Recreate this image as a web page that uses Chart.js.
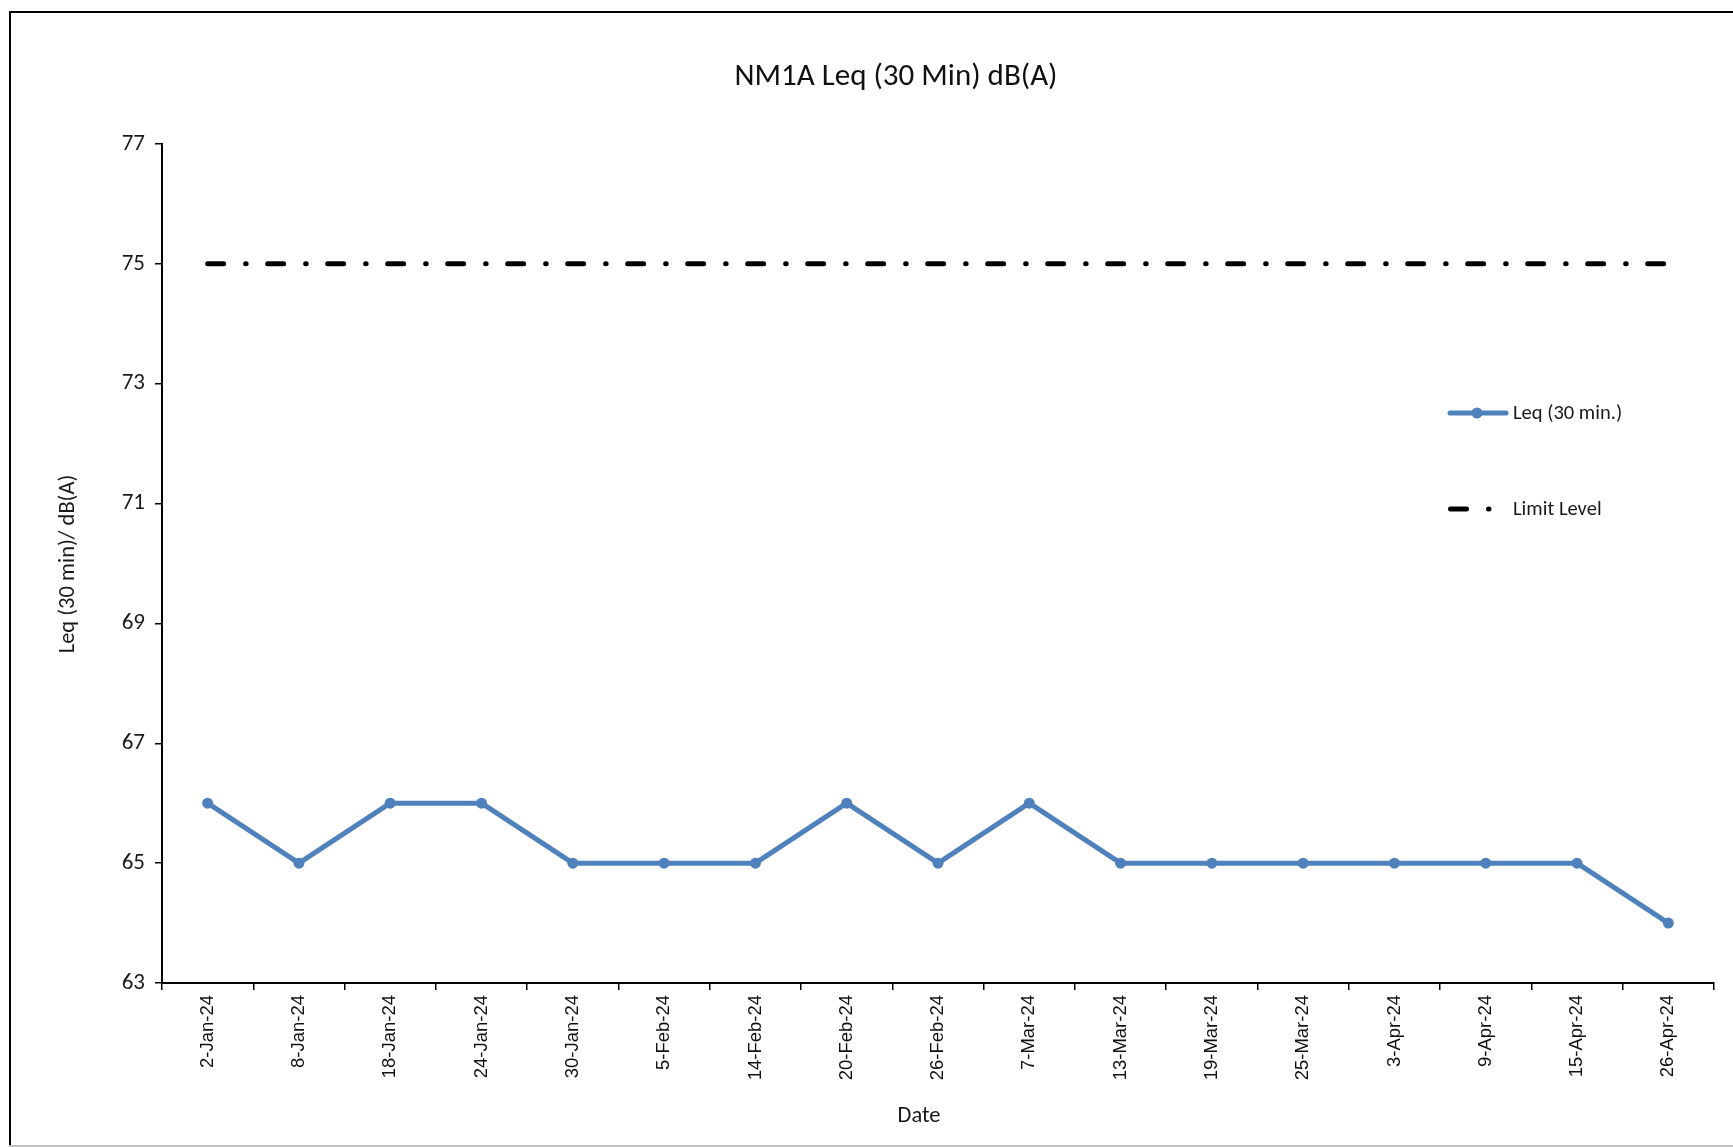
<!DOCTYPE html>
<html><head><meta charset="utf-8">
<script src="https://cdn.jsdelivr.net/npm/chart.js@4"></script>
<style>html,body{margin:0;padding:0;background:#fff;overflow:hidden;}</style>
</head><body>
<canvas id="c" width="1733" height="1147"></canvas>
<script>
const categories = ['2-Jan-24','8-Jan-24','18-Jan-24','24-Jan-24','30-Jan-24','5-Feb-24','14-Feb-24','20-Feb-24','26-Feb-24','7-Mar-24','13-Mar-24','19-Mar-24','25-Mar-24','3-Apr-24','9-Apr-24','15-Apr-24','26-Apr-24'];
const leqValues = [66,65,66,66,65,65,65,66,65,66,65,65,65,65,65,65,64];
const limitValues = [75,75,75,75,75,75,75,75,75,75,75,75,75,75,75,75,75];
const yTickValues = [63,65,67,69,71,73,75,77];
const chartTitle = 'NM1A Leq (30 Min) dB(A)';
const xAxisTitle = 'Date';
const yAxisTitle = 'Leq (30 min)/ dB(A)';
const leqLabel = 'Leq (30 min.)';
const limitLabel = 'Limit Level';

const BLUE = '#4F81BD';
const LIMIT_DASH = [16, 22, 0.5, 21.5];
const UI_FONT = 'Carlito, Lato, sans-serif';

const decor = {
  id: 'decor',
  beforeDraw(chart) {
    const ctx = chart.ctx;
    ctx.save();
    ctx.fillStyle = '#fff';
    ctx.fillRect(0, 0, chart.width, chart.height);
    ctx.fillStyle = '#000';
    ctx.fillRect(9, 11, 2, 1136);
    ctx.fillRect(9, 11, 1724, 2);
    ctx.fillStyle = '#c0c0c0';
    ctx.fillRect(9, 1145, 1724, 2);
    ctx.restore();
  },
  afterDraw(chart) {
    const ctx = chart.ctx;
    const ds = chart.data.datasets;
    ctx.save();
    ctx.fillStyle = '#111';
    ctx.textBaseline = 'middle';
    ctx.textAlign = 'center';
    ctx.font = '31px ' + UI_FONT;
    ctx.fillText(chartTitle, 896, 77);
    ctx.font = '22.5px ' + UI_FONT;
    ctx.fillStyle = '#1a1a1a';
    ctx.fillText(xAxisTitle, 919, 1116);
    ctx.save();
    ctx.translate(68, 564);
    ctx.rotate(-Math.PI / 2);
    ctx.fillText(yAxisTitle, 0, 0);
    ctx.restore();

    // legend
    ctx.font = '20.5px ' + UI_FONT;
    ctx.textAlign = 'left';
    ctx.strokeStyle = ds[0].borderColor;
    ctx.lineWidth = ds[0].borderWidth;
    ctx.lineCap = 'round';
    ctx.beginPath(); ctx.moveTo(1450, 413); ctx.lineTo(1506, 413); ctx.stroke();
    ctx.fillStyle = ds[0].pointBackgroundColor;
    ctx.beginPath(); ctx.arc(1477, 413, 5.5, 0, Math.PI * 2); ctx.fill();
    ctx.fillStyle = '#1a1a1a';
    ctx.fillText(ds[0].label, 1513, 414);

    ctx.strokeStyle = ds[1].borderColor;
    ctx.lineWidth = ds[1].borderWidth;
    ctx.setLineDash(ds[1].borderDash);
    ctx.beginPath(); ctx.moveTo(1450.5, 509); ctx.lineTo(1492, 509); ctx.stroke();
    ctx.setLineDash([]);
    ctx.fillText(ds[1].label, 1513, 510);
    ctx.restore();
  }
};

new Chart(document.getElementById('c'), {
  type: 'line',
  data: {
    labels: categories,
    datasets: [
      {
        label: leqLabel, data: leqValues,
        borderColor: BLUE, backgroundColor: BLUE, borderWidth: 5,
        pointRadius: 5.5, pointBackgroundColor: BLUE, pointBorderColor: BLUE, pointBorderWidth: 0,
        tension: 0, borderJoinStyle: 'round', borderCapStyle: 'round', order: 1
      },
      {
        label: limitLabel, data: limitValues,
        borderColor: '#000', backgroundColor: '#000', borderWidth: 5,
        borderDash: LIMIT_DASH, borderCapStyle: 'round',
        pointRadius: 0, tension: 0, order: 2
      }
    ]
  },
  options: {
    responsive: false,
    animation: false,
    layout: { padding: { left: 0, top: 144, right: 19, bottom: 0 } },
    plugins: { legend: { display: false }, title: { display: false }, tooltip: { enabled: false } },
    scales: {
      x: {
        offset: true,
        grid: { offset: true, drawOnChartArea: false, drawTicks: true, tickLength: 7, color: '#000', lineWidth: 1.5 },
        border: { color: '#000', width: 2 },
        ticks: { autoSkip: false, maxRotation: 90, minRotation: 90, padding: 5, color: '#111', font: { family: 'Liberation Sans, Arial', size: 18.5 } },
        afterFit(s) { s.height = 164; }
      },
      y: {
        min: 63, max: 77,
        afterBuildTicks(s) { s.ticks = yTickValues.map(v => ({ value: v })); },
        grid: { drawOnChartArea: false, drawTicks: true, tickLength: 7, color: '#000', lineWidth: 1.5 },
        border: { color: '#000', width: 2 },
        ticks: { padding: 10, color: '#1a1a1a', font: { family: UI_FONT, size: 23 } },
        afterFit(s) { s.width = 162; }
      }
    }
  },
  plugins: [decor]
});
</script>
</body></html>
